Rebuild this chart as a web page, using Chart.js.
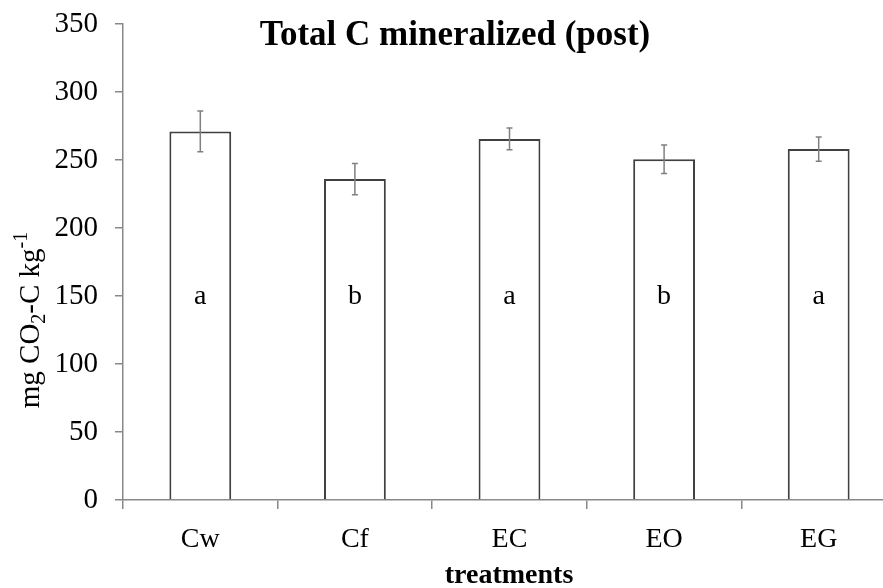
<!DOCTYPE html>
<html>
<head>
<meta charset="utf-8">
<script src="https://cdn.jsdelivr.net/npm/chart.js@4.4.1/dist/chart.umd.min.js"></script>
<style>
  html, body { margin: 0; padding: 0; background: #fff; overflow: hidden; }
  #wrap { position: relative; width: 910px; height: 588px; }
</style>
</head>
<body>
<div id="wrap"><canvas id="c" width="910" height="588"></canvas></div>
<script>
const categories = ["Cw", "Cf", "EC", "EO", "EG"];
const totalC = [271, 236, 265.5, 250.5, 258];
const errorC = [15, 11.5, 8, 10.5, 9];
const letters = ["a", "b", "a", "b", "a"];
const letterLevel = 150;
const yTicks = [0, 50, 100, 150, 200, 250, 300, 350];
const titleText = "Total C mineralized (post)";
const xTitleText = "treatments";

const SERIF = "'Liberation Serif', 'Times New Roman', serif";
const AXIS_GREY = "#888888";

const overlay = {
  id: 'overlay',
  afterDatasetsDraw(chart) {
    const ctx = chart.ctx;
    const y = chart.scales.y;
    const meta = chart.getDatasetMeta(0);
    ctx.save();
    ctx.strokeStyle = "#808080";
    ctx.lineWidth = 1.5;
    meta.data.forEach((bar, i) => {
      const cx = bar.x;
      const yt = y.getPixelForValue(totalC[i] + errorC[i]);
      const yb = y.getPixelForValue(totalC[i] - errorC[i]);
      ctx.beginPath();
      ctx.moveTo(cx, yt); ctx.lineTo(cx, yb);
      ctx.moveTo(cx - 3, yt); ctx.lineTo(cx + 3, yt);
      ctx.moveTo(cx - 3, yb); ctx.lineTo(cx + 3, yb);
      ctx.stroke();
    });
    ctx.fillStyle = "#000";
    ctx.font = "28px " + SERIF;
    ctx.textAlign = "center";
    ctx.textBaseline = "alphabetic";
    meta.data.forEach((bar, i) => {
      ctx.fillText(letters[i], bar.x, y.getPixelForValue(letterLevel) + 8);
    });
    ctx.restore();
  },
  afterDraw(chart) {
    const ctx = chart.ctx;
    ctx.save();
    ctx.fillStyle = "#000";
    ctx.font = "bold 35px " + SERIF;
    ctx.textAlign = "center";
    ctx.textBaseline = "alphabetic";
    ctx.fillText(titleText, 455, 45);
    ctx.font = "bold 28px " + SERIF;
    ctx.fillText(xTitleText, 509, 583);
    ctx.translate(39, 320);
    ctx.rotate(-Math.PI / 2);
    const parts = [
      { t: "mg CO", size: 29, dy: 0 },
      { t: "2", size: 20, dy: 6 },
      { t: "-C kg", size: 29, dy: 0 },
      { t: "-1", size: 20, dy: -12 }
    ];
    let total = 0;
    parts.forEach(p => { ctx.font = p.size + "px " + SERIF; total += ctx.measureText(p.t).width; });
    let px = -total / 2;
    ctx.textAlign = "left";
    parts.forEach(p => {
      ctx.font = p.size + "px " + SERIF;
      ctx.fillText(p.t, px, p.dy);
      px += ctx.measureText(p.t).width;
    });
    ctx.restore();
  }
};

new Chart(document.getElementById('c'), {
  type: 'bar',
  data: {
    labels: categories,
    datasets: [{
      data: totalC,
      backgroundColor: "#ffffff",
      borderColor: "#404040",
      borderWidth: 2,
      borderSkipped: 'bottom',
      categoryPercentage: 1.0,
      barPercentage: 0.4
    }]
  },
  options: {
    responsive: false,
    animation: false,
    events: [],
    layout: { autoPadding: false, padding: { top: 24, right: 14, left: 0, bottom: 0 } },
    plugins: { legend: { display: false }, tooltip: { enabled: false }, title: { display: false } },
    scales: {
      x: {
        offset: true,
        grid: { display: true, drawOnChartArea: false, drawTicks: true, tickLength: 9, color: AXIS_GREY, lineWidth: 1.5, offset: true },
        border: { display: true, color: AXIS_GREY, width: 1.5 },
        ticks: { color: "#000", font: { family: SERIF, size: 28 }, padding: 14, maxRotation: 0 },
        afterFit(s) { s.height = 88; }
      },
      y: {
        min: 0, max: 350,
        afterBuildTicks(s) { s.ticks = yTicks.map(v => ({ value: v })); },
        grid: { display: true, drawOnChartArea: false, drawTicks: true, tickLength: 8, color: AXIS_GREY, lineWidth: 1.5 },
        border: { display: true, color: AXIS_GREY, width: 1.5 },
        ticks: { color: "#000", font: { family: SERIF, size: 29 }, padding: 17 },
        afterFit(s) { s.width = 123; s.paddingTop = 0; s.paddingBottom = 0; }
      }
    }
  },
  plugins: [overlay]
});
</script>
</body>
</html>
